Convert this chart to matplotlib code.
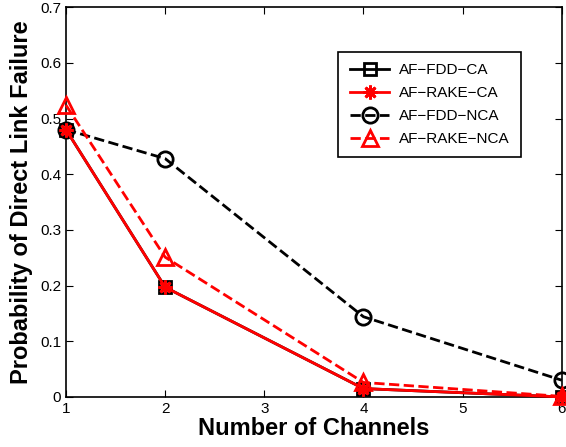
import matplotlib
matplotlib.use("Agg")
import matplotlib.pyplot as plt

plt.rcParams['font.family'] = ['Liberation Sans', 'DejaVu Sans']

canales = [1, 2, 4, 6]
fdd_ca = [0.48, 0.197, 0.015, 0.0]
rake_ca = [0.48, 0.197, 0.015, 0.0]
fdd_nca = [0.48, 0.428, 0.144, 0.03]
rake_nca = [0.524, 0.251, 0.026, 0.001]

fig = plt.figure(figsize=(5.66, 4.47), dpi=100)
ax = fig.add_axes([0.1166, 0.112, 0.876, 0.872])

ax.plot(canales, fdd_ca, '-s', color='black', lw=2, ms=8, mfc='none', mew=2,
        label='AF\u2212FDD\u2212CA', clip_on=False, zorder=3)
ax.plot(canales, rake_ca, '-', marker=(8, 2, 0), color='red', lw=2, ms=10, mew=2,
        label='AF\u2212RAKE\u2212CA', clip_on=False, zorder=4)
ax.plot(canales, fdd_nca, '--o', color='black', lw=2, ms=11, mfc='none', mew=2,
        label='AF\u2212FDD\u2212NCA', clip_on=False, zorder=3)
ax.plot(canales, rake_nca, '--^', color='red', lw=2, ms=12, mfc='none', mew=2,
        label='AF\u2212RAKE\u2212NCA', clip_on=False, zorder=3)

ax.set_xlim(1, 6)
ax.set_ylim(0, 0.7)
ax.set_xticks([1, 2, 3, 4, 5, 6])
ax.set_yticks([0, 0.1, 0.2, 0.3, 0.4, 0.5, 0.6, 0.7])
ax.set_yticklabels(['0', '0.1', '0.2', '0.3', '0.4', '0.5', '0.6', '0.7'])
ax.tick_params(direction='in', top=True, right=True, labelsize=11, length=5)
for s in ax.spines.values():
    s.set_linewidth(1.2)

ax.set_xlabel('Number of Channels', fontsize=17, fontweight='bold', labelpad=1)
ax.set_ylabel('Probability of Direct Link Failure', fontsize=17, fontweight='bold', labelpad=5)

leg = ax.legend(loc='upper right', bbox_to_anchor=(0.917, 0.885), borderaxespad=0, fontsize=11,
                fancybox=False, edgecolor='black', framealpha=1, handlelength=2.6,
                borderpad=0.75, labelspacing=0.58, handletextpad=0.6)
leg.get_frame().set_linewidth(1.2)

fig.savefig('out.png', dpi=100)
